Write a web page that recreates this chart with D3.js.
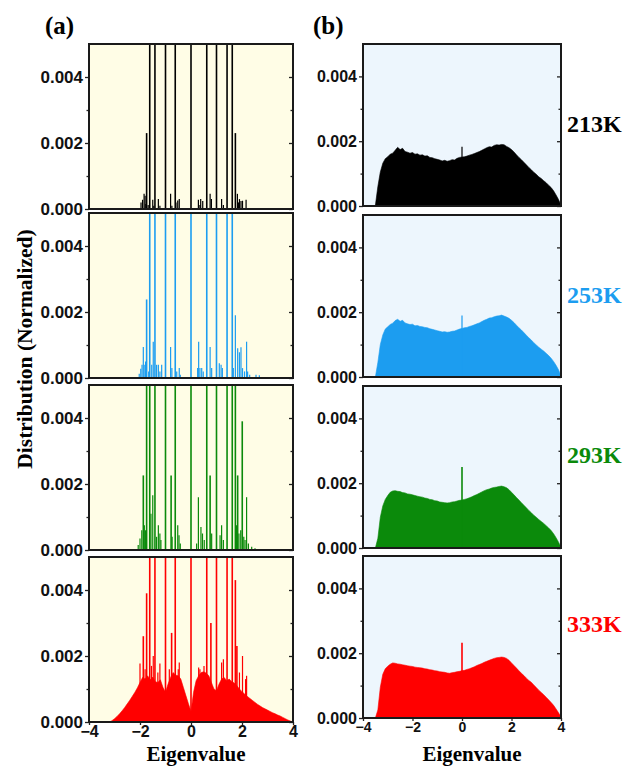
<!DOCTYPE html>
<html>
<head>
<meta charset="utf-8">
<script src="https://cdn.jsdelivr.net/npm/d3@7/dist/d3.min.js"></script>
<style>
  body { margin: 0; background: #fff; }
  svg { display: block; }
</style>
</head>
<body>
<svg id="chart" width="627" height="767"></svg>
<script>
// values are in units of 1e-3 (normalized distribution)
const UNIT = 1e-3;

const temperatures = ['213K', '253K', '293K', '333K'];
const tempColors = ['#000000', '#1c9df0', '#0b8a0b', '#ff0000'];

// histogram bin centres, shared by panel (b) and the red background of panel (a)
const eigBins = [-3.6,-3.5,-3.4,-3.3,-3.2,-3.1,-3.0,-2.9,-2.8,-2.7,
  -2.6,-2.5,-2.4,-2.3,-2.2,-2.1,-2.0,-1.9,-1.8,-1.7,
  -1.6,-1.5,-1.4,-1.3,-1.2,-1.1,-1.0,-0.9,-0.8,-0.7,
  -0.6,-0.5,-0.4,-0.3,-0.2,-0.1,0.0,0.1,0.2,0.3,
  0.4,0.5,0.6,0.7,0.8,0.9,1.0,1.1,1.2,1.3,
  1.4,1.5,1.6,1.7,1.8,1.9,2.0,2.1,2.2,2.3,
  2.4,2.5,2.6,2.7,2.8,2.9,3.0,3.1,3.2,3.3,
  3.4,3.5,3.6,3.7,3.8,3.9,4.0];

// panel (b): full spectrum
const distB213 = [0, 0.02, 0.60, 1.05, 1.32, 1.46, 1.52, 1.60, 1.63, 1.72,
  1.81, 1.74, 1.78, 1.68, 1.66, 1.63, 1.65, 1.60, 1.61, 1.57,
  1.58, 1.54, 1.55, 1.50, 1.49, 1.46, 1.44, 1.42, 1.39, 1.41,
  1.38, 1.40, 1.43, 1.42, 1.47, 1.50, 1.51, 1.52, 1.54, 1.57,
  1.59, 1.62, 1.65, 1.68, 1.72, 1.76, 1.80, 1.83, 1.82, 1.87,
  1.89, 1.88, 1.90, 1.89, 1.84, 1.80, 1.74, 1.67, 1.58, 1.50,
  1.43, 1.35, 1.27, 1.19, 1.12, 1.04, 0.98, 0.90, 0.85, 0.78,
  0.72, 0.64, 0.57, 0.47, 0.34, 0.20, 0.02];
const distB253 = [0, 0, 0.45, 1.00, 1.30, 1.48, 1.55, 1.62, 1.66, 1.74,
  1.78, 1.72, 1.75, 1.67, 1.64, 1.62, 1.63, 1.58, 1.59, 1.56,
  1.55, 1.53, 1.52, 1.49, 1.47, 1.45, 1.43, 1.41, 1.39, 1.40,
  1.38, 1.39, 1.41, 1.42, 1.45, 1.48, 1.50, 1.52, 1.53, 1.56,
  1.58, 1.61, 1.64, 1.67, 1.71, 1.75, 1.78, 1.82, 1.83, 1.86,
  1.88, 1.89, 1.91, 1.88, 1.85, 1.81, 1.75, 1.68, 1.60, 1.52,
  1.45, 1.37, 1.29, 1.21, 1.14, 1.06, 0.99, 0.92, 0.86, 0.80,
  0.73, 0.66, 0.58, 0.48, 0.36, 0.22, 0.03];
const distB293 = [0, 0, 0.30, 0.95, 1.30, 1.50, 1.62, 1.72, 1.76, 1.77,
  1.75, 1.74, 1.71, 1.70, 1.67, 1.66, 1.64, 1.62, 1.60, 1.58,
  1.57, 1.54, 1.53, 1.50, 1.49, 1.46, 1.45, 1.42, 1.41, 1.40,
  1.39, 1.40, 1.42, 1.43, 1.45, 1.47, 1.48, 1.50, 1.52, 1.55,
  1.58, 1.62, 1.65, 1.69, 1.73, 1.77, 1.80, 1.82, 1.85, 1.87,
  1.88, 1.90, 1.91, 1.89, 1.86, 1.80, 1.72, 1.64, 1.56, 1.48,
  1.40, 1.32, 1.24, 1.16, 1.09, 1.01, 0.95, 0.88, 0.82, 0.76,
  0.69, 0.62, 0.54, 0.44, 0.32, 0.18, 0.02];
const distB333 = [0, 0, 0.25, 0.95, 1.35, 1.52, 1.60, 1.66, 1.70, 1.69,
  1.67, 1.66, 1.64, 1.63, 1.61, 1.60, 1.59, 1.57, 1.56, 1.55,
  1.54, 1.52, 1.51, 1.49, 1.48, 1.46, 1.45, 1.43, 1.42, 1.41,
  1.39, 1.38, 1.40, 1.41, 1.43, 1.44, 1.46, 1.47, 1.50, 1.52,
  1.55, 1.58, 1.62, 1.65, 1.68, 1.72, 1.75, 1.78, 1.81, 1.84,
  1.86, 1.87, 1.88, 1.87, 1.84, 1.78, 1.70, 1.62, 1.54, 1.46,
  1.38, 1.31, 1.23, 1.16, 1.10, 1.02, 0.94, 0.86, 0.79, 0.72,
  0.64, 0.56, 0.48, 0.39, 0.28, 0.16, 0.03];
// sharp peak at eigenvalue 0 in panel (b)
const zeroPeakB = [1.83, 1.90, 2.50, 2.32];

// panel (a): continuous part only visible at 333K
const baseA333 = [0, 0, 0, 0, 0, 0.04, 0.10, 0.17, 0.25, 0.34,
  0.44, 0.55, 0.66, 0.78, 0.90, 1.04, 1.20, 1.35, 1.30, 1.40,
  1.28, 1.36, 1.22, 1.20, 1.28, 1.05, 0.90, 1.15, 1.35, 1.50,
  1.42, 1.40, 1.30, 1.05, 0.80, 0.55, 0.32, 0.90, 1.25, 1.40,
  1.50, 1.52, 1.48, 1.40, 1.20, 1.00, 0.95, 1.15, 1.30, 1.35,
  1.25, 1.30, 1.22, 1.18, 1.10, 1.00, 0.92, 0.85, 0.78, 0.72,
  0.66, 0.60, 0.54, 0.49, 0.44, 0.40, 0.36, 0.32, 0.28, 0.25,
  0.21, 0.18, 0.14, 0.10, 0.06, 0.03, 0];

// panel (a): discrete peaks [eigenvalue, height]; height 9 runs off the top
const spikesA213 = [[-1.618, 9], [-1.414, 9], [-1.0, 9], [-0.618, 9], [0, 9], [0.618, 9], [1.0, 9], [1.414, 9], [1.618, 9],
  [-1.74, 2.3], [1.74, 2.3],
  [-1.96, 0.2], [-1.9, 0.28], [-1.84, 0.46], [-1.8, 0.4], [-1.77, 0.15], [-1.68, 0.12], [-1.5, 0.28], [-1.46, 0.1],
  [-1.28, 0.3], [-1.22, 0.1], [-0.8, 0.46], [-0.75, 0.1], [-0.59, 0.2], [-0.52, 0.26], [-0.46, 0.3],
  [0.29, 0.28], [0.35, 0.12], [0.38, 0.3], [0.46, 0.24], [0.75, 0.46], [0.8, 0.3], [1.2, 0.3], [1.27, 0.12],
  [1.82, 0.46], [1.86, 0.2], [1.9, 0.3], [1.96, 0.24], [2.02, 0.25], [2.16, 0.28]];
const spikesA253 = [[-1.618, 9], [-1.414, 9], [-1.0, 9], [-0.618, 9], [0, 9], [0.618, 9], [1.0, 9], [1.414, 9], [1.618, 9],
  [-1.74, 2.38], [1.74, 1.9],
  [-2.03, 0.13], [-1.97, 0.28], [-1.92, 0.4], [-1.87, 0.94], [-1.81, 0.4], [-1.78, 0.5], [-1.66, 0.2], [-1.54, 0.4],
  [-1.48, 1.1], [-1.35, 0.4], [-1.28, 0.4], [-1.22, 0.2], [-1.15, 0.4], [-0.8, 0.94], [-0.75, 0.3], [-0.56, 0.2],
  [-0.46, 0.3], [-0.42, 0.1], [0.26, 0.3], [0.3, 1.1], [0.35, 0.3], [0.42, 0.3], [0.48, 0.2], [0.75, 0.94],
  [0.81, 0.3], [1.11, 0.45], [1.18, 0.4], [1.23, 0.3], [1.66, 0.3], [1.83, 0.9], [1.9, 0.78], [1.96, 0.93],
  [2.02, 0.3], [2.1, 0.2], [2.18, 1.1], [2.22, 0.2], [2.3, 0.1], [2.55, 0.1], [2.68, 0.08]];
const spikesA293 = [[-1.618, 9], [-1.414, 9], [-1.0, 9], [-0.618, 9], [0, 9], [0.618, 9], [1.0, 9], [1.414, 9], [1.618, 9],
  [-1.74, 9], [1.74, 9],
  [-2.07, 0.15], [-2.0, 0.35], [-1.93, 0.6], [-1.87, 2.26], [-1.83, 0.75], [-1.78, 0.6], [-1.57, 1.1], [-1.5, 1.66],
  [-1.35, 0.4], [-1.28, 0.75], [-1.22, 0.5], [-1.18, 0.3], [-0.78, 2.26], [-0.74, 0.4], [-0.52, 0.75], [-0.47, 0.45],
  [-0.42, 0.2], [0.22, 0.2], [0.29, 1.6], [0.39, 0.7], [0.45, 0.5], [0.52, 0.3], [0.75, 2.26], [0.81, 0.5],
  [1.14, 0.45], [1.2, 0.75], [1.27, 0.3], [1.78, 0.75], [1.83, 2.26], [1.88, 0.5], [1.95, 0.6], [2.01, 3.9],
  [2.07, 0.4], [2.12, 0.3], [2.18, 1.6], [2.25, 0.2], [2.38, 0.1], [2.51, 0.05]];
const spikesA333 = [[-1.618, 9], [-1.414, 9], [-1.0, 9], [-0.618, 9], [0, 9], [0.618, 9], [1.0, 9], [1.414, 9], [1.618, 9],
  [-1.74, 3.9], [1.74, 4.3],
  [-2.0, 1.77], [-1.87, 2.6], [-1.8, 1.6], [-1.55, 1.7], [-1.48, 2.0], [-1.3, 1.5], [-1.22, 1.77], [-0.85, 1.6],
  [-0.76, 2.7], [-0.5, 1.6], [-0.46, 1.8], [0.3, 1.65], [0.35, 1.6], [0.51, 1.7], [0.78, 3.0], [1.2, 1.8],
  [1.27, 1.9], [1.8, 2.3], [1.9, 1.5], [2.02, 2.0], [2.14, 1.3], [2.18, 1.4]];

const spikesA = [spikesA213, spikesA253, spikesA293, spikesA333];
const baseA = [null, null, null, baseA333];
const distB = [distB213, distB253, distB293, distB333];

const xTicks = [-4, -2, 0, 2, 4];
const yTicks = [0, 0.002, 0.004];
const yMinorTicks = [0.001, 0.003];

const sansFont = '"Liberation Sans", Arial, sans-serif';
const serifFont = '"Liberation Serif", "Times New Roman", serif';

class EigenPanel {
    constructor(svg, id, left, top, width, height, background, fontSize){
        this.svg = svg;
        this.id = id;
        this.left = left;
        this.top = top;
        this.width = width;
        this.height = height;
        this.background = background;
        this.fontSize = fontSize;
        this.x = d3.scaleLinear().domain([-4, 4]).range([0, width]);
        this.y = d3.scaleLinear().domain([0, 0.005]).range([height, 0]);
        this.group = svg.append('g').attr('transform', 'translate(' + left + ',' + top + ')');
    }

    DrawBackground(){
        this.group.append('clipPath').attr('id', 'clip-' + this.id)
            .append('rect').attr('width', this.width).attr('height', this.height);
        this.group.append('rect')
            .attr('width', this.width)
            .attr('height', this.height)
            .style('fill', this.background);
        this.plot = this.group.append('g').attr('clip-path', 'url(#clip-' + this.id + ')');
    }

    // smooth histogram as filled area
    DrawArea(values, color){
        var self = this;
        var area = d3.area()
            .x(function(d, i){ return self.x(eigBins[i]); })
            .y0(self.y(0))
            .y1(function(d){ return self.y(d * UNIT); });
        this.plot.append('path')
            .datum(values)
            .attr('d', area)
            .style('fill', color)
            .style('stroke', color)
            .style('stroke-width', 0.6);
    }

    // discrete peaks as vertical lines
    DrawSpikes(spikes, color){
        var self = this;
        this.plot.selectAll('line.spike')
            .data(spikes)
            .enter()
            .append('line')
            .attr('class', 'spike')
            .attr('x1', function(d){ return self.x(d[0]); })
            .attr('x2', function(d){ return self.x(d[0]); })
            .attr('y1', self.y(0))
            .attr('y2', function(d){ return self.y(d[1] * UNIT); })
            .style('stroke', color)
            .style('stroke-width', function(d){ return d[1] > 2 ? 1.6 : 1.2; });
    }

    DrawYAxis(){
        var left = this.group.append('g')
            .call(d3.axisLeft(this.y).tickValues(yTicks).tickFormat(d3.format('.3f')).tickSize(4).tickPadding(2));
        this.group.append('g')
            .call(d3.axisLeft(this.y).tickValues(yMinorTicks).tickFormat('').tickSize(2.5));
        // mirrored ticks pointing inwards on the right edge
        this.group.append('g').attr('transform', 'translate(' + this.width + ',0)')
            .call(d3.axisLeft(this.y).tickValues(yTicks).tickFormat('').tickSize(4));
        this.group.append('g').attr('transform', 'translate(' + this.width + ',0)')
            .call(d3.axisLeft(this.y).tickValues(yMinorTicks).tickFormat('').tickSize(2.5));
        this.group.selectAll('.domain').remove();
        this.group.selectAll('.tick line').style('stroke', '#222').style('stroke-width', 1.3);
        left.selectAll('text')
            .style('font-family', sansFont)
            .style('font-weight', 'bold')
            .style('font-size', this.fontSize + 'px')
            .style('fill', '#111');
    }

    DrawXAxis(labelSize, padding){
        var axis = this.group.append('g').attr('transform', 'translate(0,' + this.height + ')')
            .call(d3.axisBottom(this.x).tickValues(xTicks).tickSize(3).tickPadding(padding));
        axis.select('.domain').remove();
        axis.selectAll('.tick line').style('stroke', '#222').style('stroke-width', 1.3);
        axis.selectAll('text')
            .style('font-family', sansFont)
            .style('font-weight', 'bold')
            .style('font-size', labelSize + 'px')
            .style('fill', '#111');
    }

    DrawFrame(){
        this.group.append('rect')
            .attr('width', this.width)
            .attr('height', this.height)
            .style('fill', 'none')
            .style('stroke', '#1a1a1a')
            .style('stroke-width', 2);
    }
}

var svg = d3.select('#chart');

var topsA = [44, 213, 385, 557];
var topsB = [44, 215, 386, 556];
var labelBaselines = [132, 303, 463, 632];

temperatures.forEach(function(t, i){
    var pa = new EigenPanel(svg, 'a' + i, 89, topsA[i], 204, 165, '#fffde6', 17);
    pa.DrawBackground();
    if(baseA[i]) pa.DrawArea(baseA[i], tempColors[i]);
    pa.DrawSpikes(spikesA[i], tempColors[i]);
    pa.DrawYAxis();
    if(i === temperatures.length - 1) pa.DrawXAxis(16, 1);
    pa.DrawFrame();

    var pb = new EigenPanel(svg, 'b' + i, 363, topsB[i], 198, 162, '#edf6fd', 16);
    pb.DrawBackground();
    pb.DrawArea(distB[i], tempColors[i]);
    pb.DrawSpikes([[0, zeroPeakB[i]]], tempColors[i]);
    pb.DrawYAxis();
    if(i === temperatures.length - 1) pb.DrawXAxis(14, 1);
    pb.DrawFrame();

    svg.append('text')
        .attr('x', 567)
        .attr('y', labelBaselines[i])
        .text(t)
        .style('font-family', serifFont)
        .style('font-weight', 'bold')
        .style('font-size', '24px')
        .style('fill', tempColors[i]);
});

// panel letters and axis titles
svg.append('text').attr('x', 45).attr('y', 34).text('(a)')
    .style('font-family', serifFont).style('font-weight', 'bold').style('font-size', '25px');
svg.append('text').attr('x', 313).attr('y', 34).text('(b)')
    .style('font-family', serifFont).style('font-weight', 'bold').style('font-size', '25px');

svg.append('text').attr('x', 196).attr('y', 761).attr('text-anchor', 'middle').text('Eigenvalue')
    .style('font-family', serifFont).style('font-weight', 'bold').style('font-size', '21px');
svg.append('text').attr('x', 472).attr('y', 761).attr('text-anchor', 'middle').text('Eigenvalue')
    .style('font-family', serifFont).style('font-weight', 'bold').style('font-size', '21px');

svg.append('text')
    .attr('transform', 'translate(32,349) rotate(-90)')
    .attr('text-anchor', 'middle')
    .text('Distribution (Normalized)')
    .style('font-family', serifFont).style('font-weight', 'bold').style('font-size', '21.5px');
</script>
</body>
</html>
